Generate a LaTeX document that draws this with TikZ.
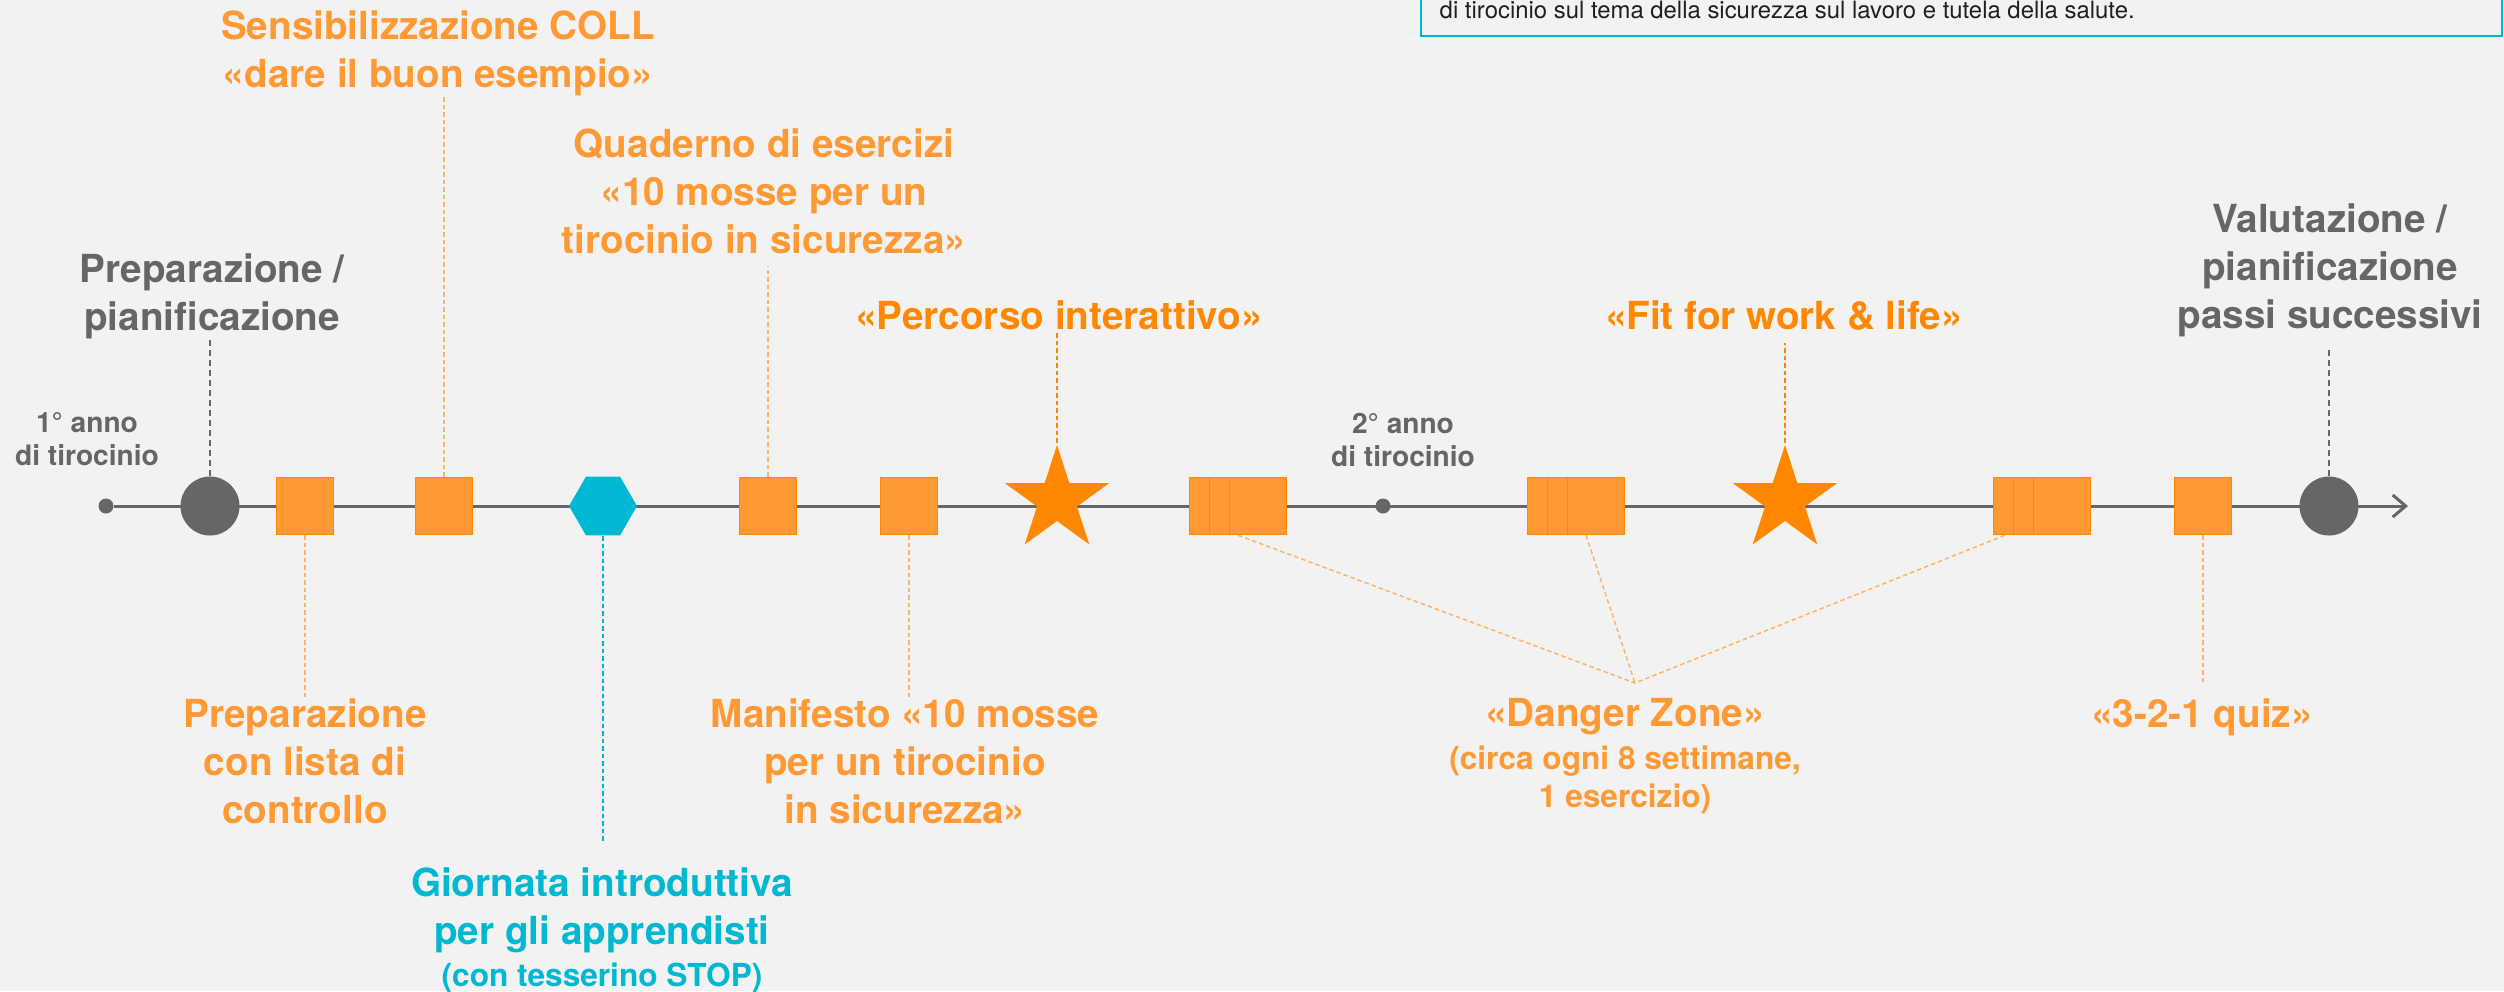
\documentclass[tikz,border=0pt]{standalone}
\usepackage{fontspec}
\setmainfont{TeX Gyre Heros}
\usetikzlibrary{positioning, shapes.geometric, arrows.meta, calc}
\definecolor{bgGrey}{HTML}{F2F2F2}
\definecolor{tlGrey}{HTML}{666666}
\definecolor{oLight}{HTML}{FF9933}
\definecolor{oDark}{HTML}{FF8800}
\definecolor{oLink}{HTML}{FFB366}
\definecolor{cyanSU}{HTML}{00B8D1}
\tikzset{
  axisline/.style={tlGrey, line width=0.3mm, -{Straight Barb[length=1.3mm,width=2.2mm]}}, % the time axis
  axisdot/.style={circle, fill=tlGrey, inner sep=0pt, minimum size=1.5mm}, % small dot on the axis
  bigdot/.style={circle, fill=tlGrey, inner sep=0pt, minimum size=5.9mm}, % planning steps
  taskbox/.style={rectangle, fill=oLight, draw=oDark, line width=0.15mm, inner sep=0pt, minimum size=5.7mm},
  hexbox/.style={regular polygon, regular polygon sides=6, fill=cyanSU, inner sep=0pt, minimum size=6.8mm},
  starbox/.style={star, star points=5, star point ratio=2.618, fill=oDark, inner sep=0pt, minimum size=11mm},
  lbl/.style={align=center, inner sep=0pt, anchor=north, font=\bfseries\fontsize{11}{13.6}\selectfont}, % big labels
  yearlbl/.style={lbl, tlGrey, font=\bfseries\fontsize{8}{9.4}\selectfont},
  notetxt/.style={inner sep=0pt, anchor=base west, text=black!88, font=\fontsize{6.8}{8}\selectfont},
  link/.style={line width=0.15mm, dash pattern=on 0.45mm off 0.3mm}, % dashed connectors
}

\begin{document}
\begin{tikzpicture}[x=0.1mm, y=-0.1mm]
\useasboundingbox (0,0) rectangle (2504,991);
\clip (0,0) rectangle (2504,991);
\fill[bgGrey] (0,0) rectangle (2504,991);

% note box, cut at the top
\draw[cyanSU, line width=0.2mm] (1421,-30) rectangle (2502,36);
\node[notetxt] (note) at (1439,18) {di tirocinio sul tema della sicurezza sul lavoro e tutela della salute.};

% axis
\node[axisdot] (year1) at (106,506) {};
\coordinate (axisEnd) at (2408,506);
\draw[axisline] (year1) -- (axisEnd);
\node[axisdot] (year2) at (1383,506) {};

% steps on the axis
\node[bigdot] (plan) at (210,506) {};
\node[taskbox] (check) at (305,506) {};
\node[taskbox] (sens) at (444,506) {};
\node[hexbox] (hexIntro) at (603,506) {};
\node[taskbox] (quad) at (768,506) {};
\node[taskbox] (mani) at (909,506) {};
\node[starbox] (perc) at (1057,500) {};
\foreach \g/\x in {1/1218, 2/1556, 3/2022}
  \foreach \k in {0,1,2}
    \node[taskbox] (dz\g\k) at (\x+\k*20,506) {};
\node[starbox] (fit) at (1785,500) {};
\node[taskbox] (quiz) at (2203,506) {};
\node[bigdot] (eval) at (2329,506) {};

% labels above
\node[lbl, oLight] (lblSens) at (438,10) {Sensibilizzazione COLL\\«dare il buon esempio»};
\node[lbl, oLight] (lblQuad) at (764,128) {Quaderno di esercizi\\«10 mosse per un\\tirocinio in sicurezza»};
\node[lbl, tlGrey] (lblPlan) at (212,253) {Preparazione /\\pianificazione};
\node[lbl, oDark] (lblPerc) at (1059,300) {«Percorso interattivo»};
\node[lbl, oDark] (lblFit) at (1784,300) {«Fit for work \& life»};
\node[lbl, tlGrey] (lblEval) at (2330,203) {Valutazione /\\pianificazione\\passi successivi};
\node[yearlbl] (lblYear1) at (87,412) {1° anno\\di tirocinio};
\node[yearlbl] (lblYear2) at (1403,412) {2° anno\\di tirocinio};

% labels below
\node[lbl, oLight] (lblCheck) at (305,698) {Preparazione\\con lista di\\controllo};
\node[lbl, oLight] (lblMani) at (905,698) {Manifesto «10 mosse\\per un tirocinio\\in sicurezza»};
\node[lbl, cyanSU] (lblIntro) at (602,867) {Giornata introduttiva\\per gli apprendisti\\[-1.7pt]\fontsize{9}{11}\selectfont (con tesserino STOP)};
\node[lbl, oLight] (lblDanger) at (1625,698) {«Danger Zone»\\[-1.4pt]\fontsize{9}{11}\selectfont (circa ogni 8 settimane,\\[-2.8pt]\fontsize{9}{11}\selectfont 1 esercizio)};
\node[lbl, oLight] (lblQuiz) at (2202,698) {«3-2-1 quiz»};
\coordinate[above=1.5mm of lblDanger, xshift=1mm] (dzMeet);

% connectors
\draw[link, oLink, shorten >=1.2mm]
  (sens.north) -- (sens.north |- lblSens.south)
  (quad.north) -- (quad.north |- lblQuad.south);
\draw[link, oDark, shorten >=1.2mm]
  (perc.north) -- (perc.north |- lblPerc.south)
  (fit.north) -- (fit.north |- lblFit.south);
\draw[link, tlGrey, line width=0.25mm, dash pattern=on 0.6mm off 0.4mm, shorten >=1.2mm]
  (plan.north) -- (plan.north |- lblPlan.south)
  (eval.north) -- (eval.north |- lblEval.south);
\draw[link, oLink, shorten >=1.6mm]
  (check.south) -- (check.south |- lblCheck.north)
  (mani.south) -- (mani.south |- lblMani.north)
  (quiz.south) -- (quiz.south |- lblQuiz.north);
\draw[link, cyanSU, shorten >=2.4mm]
  (hexIntro.south) -- (hexIntro.south |- lblIntro.north);
\draw[link, oLink]
  (dz11.south) -- (dzMeet)
  ($(dz21.south)!0.5!(dz22.south)$) -- (dzMeet)
  ($(dz30.south west)!0.6!(dz31.south west)$) -- (dzMeet);
\end{tikzpicture}
\end{document}
